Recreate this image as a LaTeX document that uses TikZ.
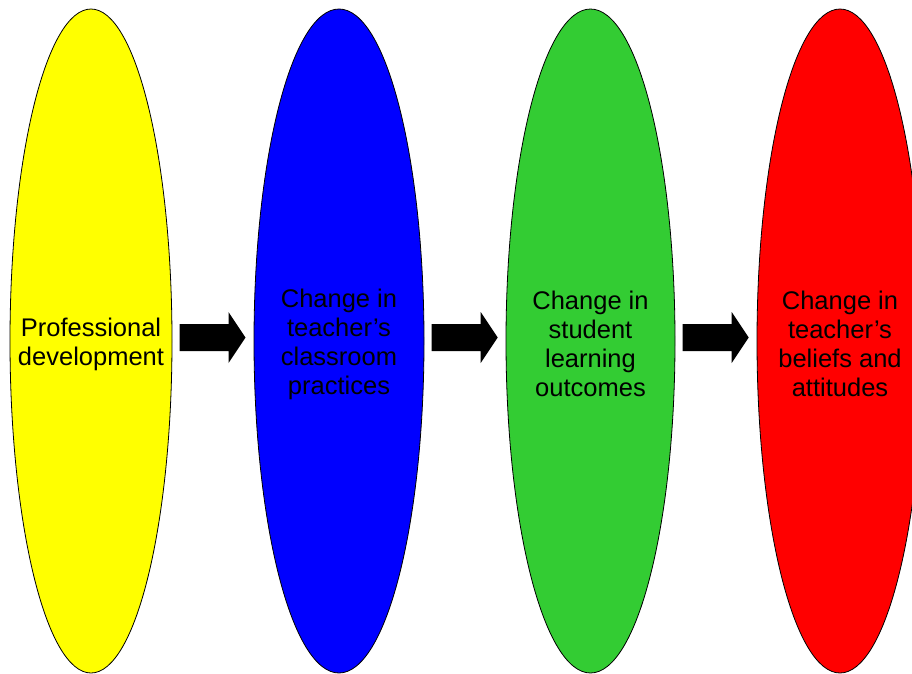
\documentclass[tikz,border=0pt]{standalone}
\usepackage{fontspec}
\setmainfont{Liberation Sans}
\usetikzlibrary{shapes.geometric}
\definecolor{pyellow}{RGB}{255,255,0}
\definecolor{pblue}{RGB}{0,0,255}
\definecolor{pgreen}{RGB}{51,204,51}
\definecolor{pred}{RGB}{255,0,0}
\tikzset{
  oval/.style={ellipse, draw=black, line width=0.8pt, inner sep=0pt,
    minimum height=664pt},
  label text/.style={align=center, font=\fontsize{25.5}{29}\selectfont, text=black},
  blockarrow/.style={fill=black}
}
\begin{document}
\begin{tikzpicture}[x=1pt,y=-1pt]
\useasboundingbox (0,0) rectangle (912,673);
\clip (0,0) rectangle (912,673);
\node[oval, fill=pyellow, minimum width=162pt] (e1) at (91,341) {};
\node[oval, fill=pblue,   minimum width=170pt] (e2) at (339,341) {};
\node[oval, fill=pgreen,  minimum width=169pt] (e3) at (590.5,341) {};
\node[oval, fill=pred,    minimum width=166pt] (e4) at (840,341) {};
\node[label text] (t1) at (91,344) {Professional\\development};
\node[label text] (t2) at (339,344) {Change in\\teacher’s\\classroom\\practices};
\node[label text] (t3) at (590.5,344) {Change in\\student\\learning\\outcomes};
\node[label text] (t4) at (840,344) {Change in\\teacher’s\\beliefs and\\attitudes};
\coordinate (a1) at (179.5,337.5);
\coordinate (a2) at (431.7,337.5);
\coordinate (a3) at (682.7,337.5);
\foreach \a in {a1,a2,a3}{
  \fill[blockarrow] (\a) ++(0,-13.5) -- ++(49,0) -- ++(0,-12) -- ++(17,25.5)
    -- ++(-17,25.5) -- ++(0,-12) -- ++(-49,0) -- cycle;
}
\end{tikzpicture}
\end{document}
